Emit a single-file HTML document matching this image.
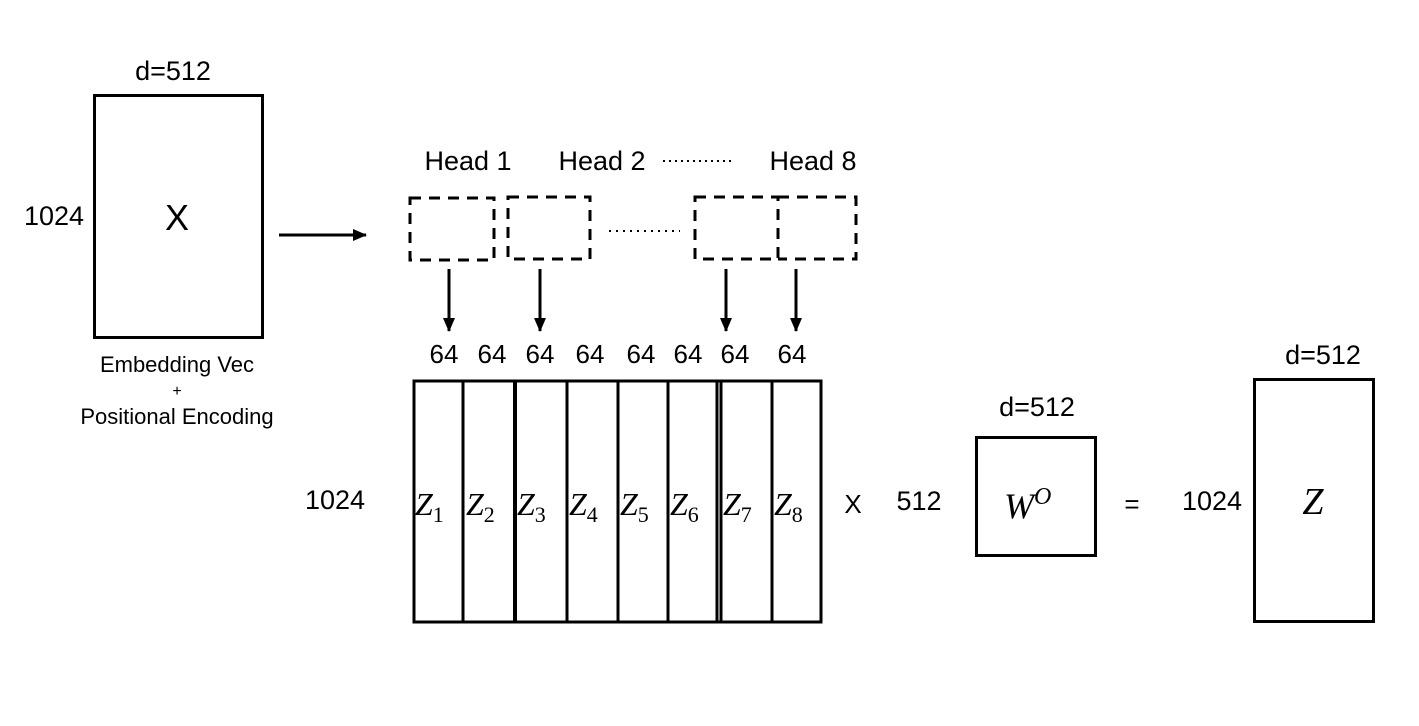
<!DOCTYPE html>
<html><head><meta charset="utf-8"><style>
html,body{margin:0;padding:0;background:#fff;}
svg{display:block;}
text{font-family:"Liberation Sans","NanumGothic",sans-serif;fill:#000;}
.m{font-family:"Liberation Serif","DejaVu Serif",serif;font-style:italic;}
</style></head><body>
<svg width="1419" height="726" viewBox="0 0 1419 726" xmlns="http://www.w3.org/2000/svg">
<defs><marker id="ah" markerWidth="14" markerHeight="12" refX="13" refY="6" orient="auto" markerUnits="userSpaceOnUse"><path d="M0,0 L14,6 L0,12 z" fill="#000"/></marker></defs>
<text x="173" y="80" font-size="27" text-anchor="middle">d=512</text>
<rect x="94.5" y="95.5" width="168" height="242" fill="none" stroke="#000" stroke-width="3"/>
<text x="177" y="230" font-size="36" text-anchor="middle">X</text>
<text x="54" y="225" font-size="27" text-anchor="middle">1024</text>
<text x="177" y="372" font-size="22" text-anchor="middle">Embedding Vec</text>
<text x="177" y="396" font-size="16" text-anchor="middle">+</text>
<text x="177" y="424" font-size="22" text-anchor="middle">Positional Encoding</text>
<line x1="279" y1="235" x2="366" y2="235" stroke="#000" stroke-width="3" marker-end="url(#ah)"/>
<text x="468" y="170" font-size="27" text-anchor="middle">Head 1</text>
<text x="602" y="170" font-size="27" text-anchor="middle">Head 2</text>
<line x1="663" y1="161" x2="735" y2="161" stroke="#000" stroke-width="2" stroke-dasharray="2,4"/>
<text x="813" y="170" font-size="27" text-anchor="middle">Head 8</text>
<g fill="none" stroke="#000" stroke-width="3" stroke-dasharray="11,8">
<rect x="410" y="198" width="84" height="62"/>
<rect x="508" y="197" width="82" height="62"/>
<rect x="695" y="197" width="83" height="62"/>
<path d="M778,197 H856 V259 H778"/>
</g>
<line x1="609" y1="231" x2="680" y2="231" stroke="#000" stroke-width="2" stroke-dasharray="2,5"/>
<g stroke="#000" stroke-width="3">
<line x1="449" y1="269" x2="449" y2="331" marker-end="url(#ah)"/>
<line x1="540" y1="269" x2="540" y2="331" marker-end="url(#ah)"/>
<line x1="726" y1="269" x2="726" y2="331" marker-end="url(#ah)"/>
<line x1="796" y1="269" x2="796" y2="331" marker-end="url(#ah)"/>
</g>
<g font-size="26" text-anchor="middle">
<text x="444" y="363">64</text><text x="492" y="363">64</text><text x="540" y="363">64</text><text x="590" y="363">64</text>
<text x="641" y="363">64</text><text x="688" y="363">64</text><text x="735" y="363">64</text><text x="792" y="363">64</text>
</g>
<g fill="none" stroke="#000" stroke-width="3">
<rect x="414" y="381" width="407" height="241"/>
<line x1="463" y1="381" x2="463" y2="622"/>
<line x1="515" y1="381" x2="515" y2="622" stroke-width="4"/>
<line x1="567" y1="381" x2="567" y2="622"/>
<line x1="618" y1="381" x2="618" y2="622"/>
<line x1="668" y1="381" x2="668" y2="622"/>
<line x1="717" y1="381" x2="717" y2="622"/>
<line x1="721" y1="381" x2="721" y2="622"/>
<line x1="772" y1="381" x2="772" y2="622"/>
</g>
<g font-size="32">
<text x="415" y="515" class="m">Z<tspan font-size="22" dy="7" font-style="normal">1</tspan></text>
<text x="466" y="515" class="m">Z<tspan font-size="22" dy="7" font-style="normal">2</tspan></text>
<text x="517" y="515" class="m">Z<tspan font-size="22" dy="7" font-style="normal">3</tspan></text>
<text x="569" y="515" class="m">Z<tspan font-size="22" dy="7" font-style="normal">4</tspan></text>
<text x="620" y="515" class="m">Z<tspan font-size="22" dy="7" font-style="normal">5</tspan></text>
<text x="670" y="515" class="m">Z<tspan font-size="22" dy="7" font-style="normal">6</tspan></text>
<text x="723" y="515" class="m">Z<tspan font-size="22" dy="7" font-style="normal">7</tspan></text>
<text x="774" y="515" class="m">Z<tspan font-size="22" dy="7" font-style="normal">8</tspan></text>
</g>
<text x="335" y="509" font-size="27" text-anchor="middle">1024</text>
<text x="853" y="513" font-size="26" text-anchor="middle">X</text>
<text x="919" y="510" font-size="27" text-anchor="middle">512</text>
<text x="1037" y="416" font-size="27" text-anchor="middle">d=512</text>
<rect x="976.5" y="437.5" width="119" height="118" fill="none" stroke="#000" stroke-width="3"/>
<text x="1004" y="518" font-size="36" class="m">W<tspan font-size="24" dy="-14">O</tspan></text>
<text x="1132" y="513" font-size="26" text-anchor="middle">=</text>
<text x="1323" y="364" font-size="27" text-anchor="middle">d=512</text>
<text x="1212" y="510" font-size="27" text-anchor="middle">1024</text>
<rect x="1254.5" y="379.5" width="119" height="242" fill="none" stroke="#000" stroke-width="3"/>
<text x="1313" y="514" font-size="38" class="m" text-anchor="middle">Z</text>
</svg>
</body></html>
